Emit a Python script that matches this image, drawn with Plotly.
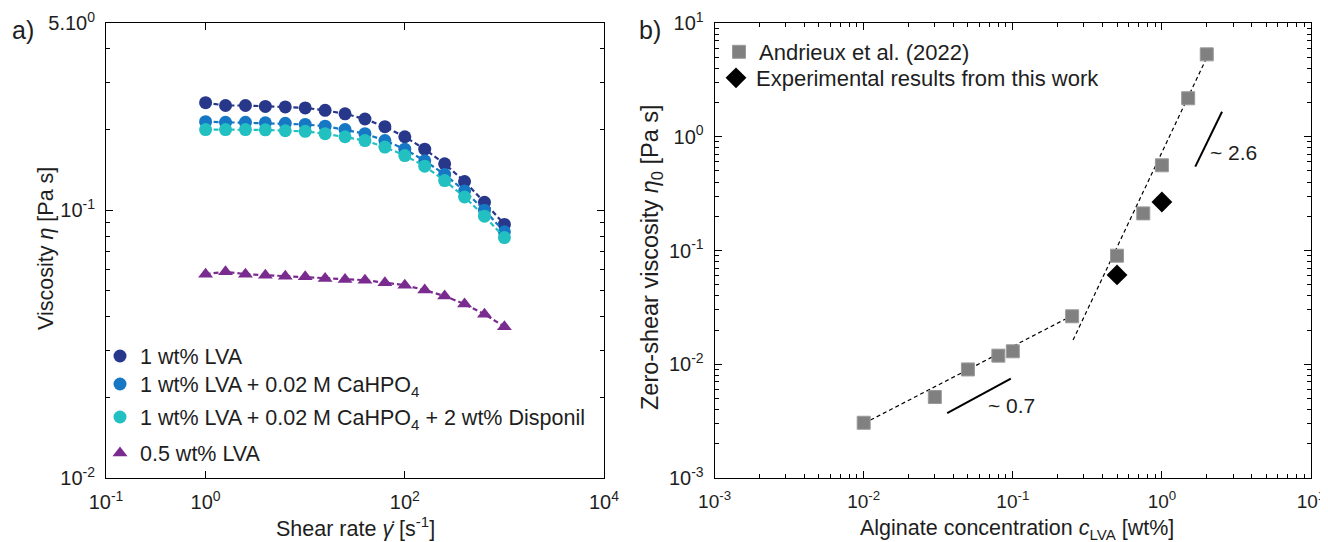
import plotly.graph_objects as go
import numpy as np

# ---------- Panel a data ----------
shear_rate = [1.0, 1.585, 2.512, 3.981, 6.31, 10.0, 15.85, 25.12, 39.81, 63.1,
              100.0, 158.5, 251.2, 398.1, 631.0, 1000.0]
visc_1lva = [0.252, 0.246, 0.246, 0.244, 0.243, 0.241, 0.236, 0.229, 0.219, 0.205,
             0.188, 0.169, 0.149, 0.128, 0.107, 0.0885]
visc_1lva_ca = [0.214, 0.213, 0.213, 0.212, 0.211, 0.209, 0.206, 0.200, 0.193, 0.182,
                0.169, 0.153, 0.136, 0.118, 0.100, 0.083]
visc_1lva_ca_disp = [0.200, 0.200, 0.200, 0.1995, 0.198, 0.197, 0.193, 0.188, 0.182, 0.172,
                     0.160, 0.146, 0.129, 0.112, 0.095, 0.079]
visc_05lva = [0.0577, 0.0589, 0.0577, 0.0572, 0.0567, 0.0564, 0.0556, 0.0551, 0.0548, 0.0536,
              0.0525, 0.0503, 0.0478, 0.0446, 0.0409, 0.0367]

names_a = ["1 wt% LVA",
           "1 wt% LVA + 0.02 M CaHPO<sub>4</sub>",
           "1 wt% LVA + 0.02 M CaHPO<sub>4</sub> + 2 wt% Disponil",
           "0.5 wt% LVA"]
colors_a = ["#27378a", "#1677c4", "#22c0c0", "#7a2b8f"]
symbols_a = ["circle", "circle", "circle", "triangle-up"]

xa_tickvals = [0.1, 1, 100, 10000]
xa_ticktext = ["10<sup>-1</sup>", "10<sup>0</sup>", "10<sup>2</sup>", "10<sup>4</sup>"]
ya_tickvals = [0.01, 0.1, 0.5]
ya_ticktext = ["10<sup>-2</sup>", "10<sup>-1</sup>", "5.10<sup>0</sup>"]

# ---------- Panel b data ----------
names_b = ["Andrieux et al. (2022)", "Experimental results from this work"]
conc_lit = [0.01, 0.03, 0.05, 0.08, 0.1, 0.25, 0.5, 0.75, 1.0, 1.5, 2.0]
eta0_lit = [0.00306, 0.00515, 0.0090, 0.0119, 0.0130, 0.0264, 0.090, 0.212, 0.561, 2.18, 5.3]
conc_exp = [0.5, 1.0]
eta0_exp = [0.061, 0.267]

fit1_x = [0.0111, 0.245]
fit1_y = [0.00323, 0.0264]
fit2_x = [0.2535, 1.99]
fit2_y = [0.0163, 4.9]
slope07_x = [0.0363, 0.097]
slope07_y = [0.00371, 0.00746]
slope26_x = [1.675, 2.53]
slope26_y = [0.546, 1.66]

xb_tickvals = [0.001, 0.01, 0.1, 1, 10]
xb_ticktext = ["10<sup>-3</sup>", "10<sup>-2</sup>", "10<sup>-1</sup>", "10<sup>0</sup>", "10<sup>1</sup>"]
yb_tickvals = [0.001, 0.01, 0.1, 1, 10]
yb_ticktext = ["10<sup>-3</sup>", "10<sup>-2</sup>", "10<sup>-1</sup>", "10<sup>0</sup>", "10<sup>1</sup>"]

FONT = "Liberation Sans, Arial, sans-serif"
TXT = "#1e1e1e"

# layout geometry (screen pixels; the page body adds an 8 px offset)
OFF = 8
W, H = 1328 - OFF, 542 - OFF
L, R, T, B = 106, 1311, 23, 478
XA_END = 604
XB_START = 714.6


def px(xs):
    return (xs - L) / (R - L)


def py(ys):
    return (B - ys) / (B - T)


def minor_vals(lo_exp, hi_exp):
    vals = []
    for e in range(lo_exp, hi_exp):
        for m in range(2, 10):
            vals.append(m * 10.0 ** e)
    return vals


fig = go.Figure()

# legend placement (screen px of item centre)
legend_pos_a = [(100, 356), (100, 384), (100, 417), (100, 453)]
legend_pos_b = [(719, 52), (716, 78)]
legend_ids_a = ["legend", "legend3", "legend4", "legend5"]
legend_ids_b = ["legend2", "legend6"]

# Panel a traces
series_a = [visc_1lva, visc_1lva_ca, visc_1lva_ca_disp, visc_05lva]
for name, col, sym, ys, lid in zip(names_a, colors_a, symbols_a, series_a, legend_ids_a):
    fig.add_trace(go.Scatter(x=shear_rate, y=ys, mode="lines",
                             line=dict(color=col, width=2.2, dash="5px,3px"),
                             showlegend=False, xaxis="x", yaxis="y", hoverinfo="skip"))
    fig.add_trace(go.Scatter(x=shear_rate, y=ys, mode="markers", name=name,
                             marker=dict(color=col, symbol=sym, size=13, line=dict(width=0)),
                             xaxis="x", yaxis="y", legend=lid))

# Panel b traces
dash_b = dict(color="black", width=1.2, dash="4px,3px")
fig.add_trace(go.Scatter(x=fit1_x, y=fit1_y, mode="lines", line=dash_b,
                         showlegend=False, xaxis="x2", yaxis="y2"))
fig.add_trace(go.Scatter(x=fit2_x, y=fit2_y, mode="lines", line=dash_b,
                         showlegend=False, xaxis="x2", yaxis="y2"))
fig.add_trace(go.Scatter(x=slope07_x, y=slope07_y, mode="lines", line=dict(color="black", width=2),
                         showlegend=False, xaxis="x2", yaxis="y2"))
fig.add_trace(go.Scatter(x=slope26_x, y=slope26_y, mode="lines", line=dict(color="black", width=2),
                         showlegend=False, xaxis="x2", yaxis="y2"))
fig.add_trace(go.Scatter(x=conc_lit, y=eta0_lit, mode="markers", name=names_b[0],
                         marker=dict(color="#808080", symbol="square", size=13,
                                     line=dict(width=1, color="#9a9a9a")),
                         xaxis="x2", yaxis="y2", legend=legend_ids_b[0]))
fig.add_trace(go.Scatter(x=conc_exp, y=eta0_exp, mode="markers", name=names_b[1],
                         marker=dict(color="black", symbol="diamond", size=16, line=dict(width=0)),
                         xaxis="x2", yaxis="y2", legend=legend_ids_b[1]))

axis_common = dict(type="log", showline=True, linecolor="black", linewidth=1, mirror="allticks",
                   ticks="inside", ticklen=7, tickcolor="black", tickwidth=1,
                   showgrid=False, zeroline=False, automargin=False,
                   ticklabeloverflow="allow",
                   tickfont=dict(family=FONT, size=20, color=TXT))

minor_common = dict(ticks="inside", ticklen=4, tickcolor="black", showgrid=False)

legends = {}
for lid, (lx, ly) in zip(legend_ids_a, legend_pos_a):
    legends[lid] = dict(x=px(lx), y=py(ly), xanchor="left", yanchor="middle",
                        bgcolor="rgba(0,0,0,0)", font=dict(family=FONT, size=21.5, color=TXT),
                        itemwidth=30)
for lid, (lx, ly) in zip(legend_ids_b, legend_pos_b):
    legends[lid] = dict(x=px(lx), y=py(ly), xanchor="left", yanchor="middle",
                        bgcolor="rgba(0,0,0,0)", font=dict(family=FONT, size=22, color=TXT),
                        itemwidth=30)


def title_ann(text, xs, ys, size, angle=0):
    return dict(text=text, textangle=angle, x=px(xs), y=py(ys), xref="paper", yref="paper",
                showarrow=False, xanchor="center", yanchor="middle",
                font=dict(family=FONT, size=size, color=TXT))


fig.update_layout(
    width=W, height=H,
    margin=dict(l=L - OFF, r=W - (R - OFF), t=T - OFF, b=H - (B - OFF)),
    paper_bgcolor="white", plot_bgcolor="white",
    font=dict(family=FONT, size=20, color=TXT),
    xaxis=dict(axis_common, domain=[0, px(XA_END)], range=[-1, 4],
               tickmode="array", tickvals=xa_tickvals, ticktext=xa_ticktext,
               ticklabelstandoff=6, anchor="y"),
    yaxis=dict(axis_common, domain=[0, 1], range=[-2, np.log10(0.5)],
               tickmode="array", tickvals=ya_tickvals, ticktext=ya_ticktext,
               ticklabelstandoff=6,
               minor=dict(minor_common, tickvals=minor_vals(-2, -1) + [0.2, 0.3, 0.4]),
               anchor="x"),
    xaxis2=dict(axis_common, domain=[px(XB_START), 1], range=[-3, 1],
                tickmode="array", tickvals=xb_tickvals, ticktext=xb_ticktext,
                ticklabelstandoff=6, tickfont=dict(family=FONT, size=19, color=TXT),
                minor=dict(minor_common, tickvals=minor_vals(-3, 1)),
                anchor="y2"),
    yaxis2=dict(axis_common, domain=[0, 1], range=[-3, 1],
                tickmode="array", tickvals=yb_tickvals, ticktext=yb_ticktext,
                ticklabelstandoff=6,
                minor=dict(minor_common, tickvals=minor_vals(-3, 1)),
                anchor="x2"),
    annotations=[
        dict(text="a)", x=px(10), y=py(30), xref="paper", yref="paper", showarrow=False,
             xanchor="left", yanchor="middle", font=dict(family=FONT, size=25, color=TXT)),
        dict(text="b)", x=px(637), y=py(30), xref="paper", yref="paper", showarrow=False,
             xanchor="left", yanchor="middle", font=dict(family=FONT, size=25, color=TXT)),
        title_ann("Viscosity <i>η</i> [Pa s]", 46, 249, 21.5, -90),
        title_ann("Zero-shear viscosity <i>η</i><sub>0</sub> [Pa s]", 652, 257, 23.5, -90),
        title_ann("Shear rate <i>γ̇</i> [s<sup>-1</sup>]", 355, 527, 21.5),
        title_ann("Alginate concentration <i>c</i><sub>LVA</sub> [wt%]", 1017, 529, 21.5),
        dict(text="~ 2.6", x=np.log10(2.05), y=np.log10(0.734), xref="x2", yref="y2", showarrow=False,
             xanchor="left", yanchor="middle", font=dict(family=FONT, size=21, color=TXT)),
        dict(text="~ 0.7", x=np.log10(0.066), y=np.log10(0.00438), xref="x2", yref="y2", showarrow=False,
             xanchor="left", yanchor="middle", font=dict(family=FONT, size=21, color=TXT)),
    ],
    **legends,
)

fig.write_html("out.html")
